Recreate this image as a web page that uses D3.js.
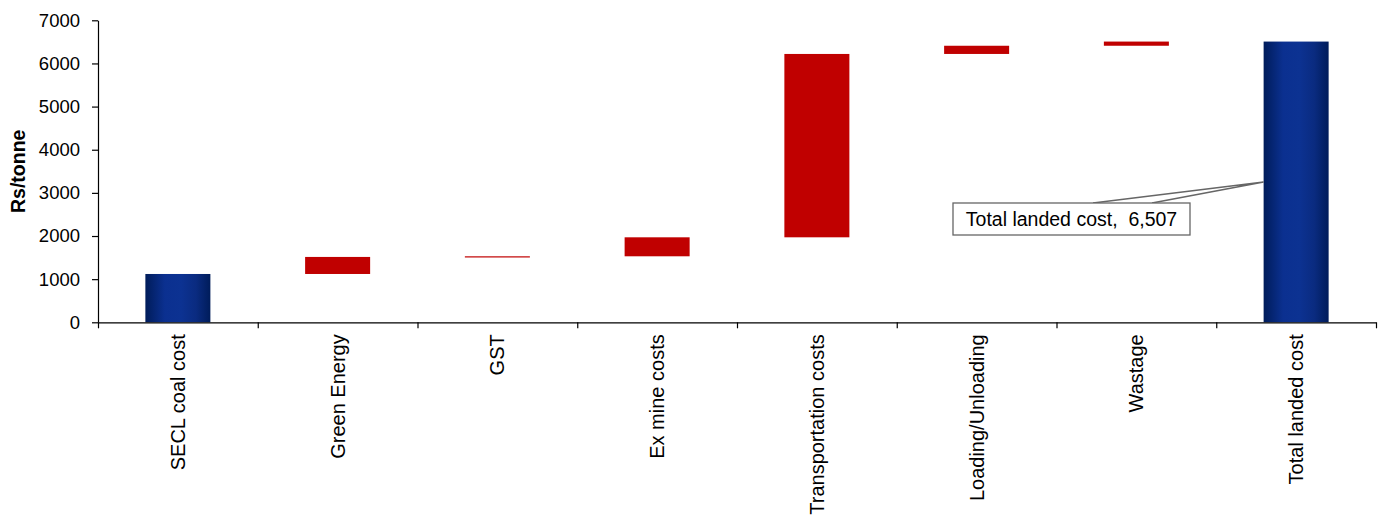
<!DOCTYPE html>
<html>
<head>
<meta charset="utf-8">
<script src="https://cdn.jsdelivr.net/npm/d3@7"></script>
<style>
body { margin: 0; background: #fff; }
svg { display: block; font-family: "Liberation Sans", Arial, sans-serif; }
</style>
</head>
<body>
<div id="chart"></div>
<script>
///data
const categories = ["SECL coal cost", "Green Energy", "GST", "Ex mine costs",
  "Transportation costs", "Loading/Unloading", "Wastage", "Total landed cost"];
const steps = [1120, 395, 15, 440, 4250, 190, 97];
const totalValue = 6507;
const yTicks = [0, 1000, 2000, 3000, 4000, 5000, 6000, 7000];
const calloutText = "Total landed cost,  6,507";

///vars
let w = 1384, h = 516;
const padL = 98, padR = 1376, padT = 20.3, padB = 322.3;

let svg = d3.select("#chart").append("svg")
  .attr("width", w).attr("height", h);

///gradient for the blue bars
const grad = svg.append("defs").append("linearGradient")
  .attr("id", "blue").attr("x1", "0%").attr("x2", "100%").attr("y1", "0%").attr("y2", "0%");
[["0%", "#001c5a"], ["30%", "#0b3090"], ["55%", "#0c3292"], ["78%", "#0a2b80"], ["100%", "#001c5a"]]
  .forEach(s => grad.append("stop").attr("offset", s[0]).attr("stop-color", s[1]));

///scales
const x = d3.scaleBand().domain(categories).range([padL, padR]).padding(0);
const y = d3.scaleLinear().domain([0, 7000]).range([padB, padT]);
const barW = x.bandwidth() * 0.407;

///waterfall rows
let run = 0;
const rows = categories.map((c, i) => {
  if (i === 0) { run = steps[0]; return { c, y0: 0, y1: run, total: true }; }
  if (i === categories.length - 1) return { c, y0: 0, y1: totalValue, total: true };
  const r = { c, y0: run, y1: run + steps[i], total: false };
  run += steps[i];
  return r;
});

svg.append("g").selectAll("rect")
  .data(rows).join("rect")
  .attr("x", d => x(d.c) + x.bandwidth() / 2 - barW / 2)
  .attr("width", barW)
  .attr("y", d => y(d.y1))
  .attr("height", d => Math.max(1.2, y(d.y0) - y(d.y1)))
  .attr("fill", d => d.total ? "url(#blue)" : "#c00000");

///y axis
const yAxis = svg.append("g")
  .attr("transform", "translate(" + padL + ",0)")
  .call(d3.axisLeft(y).tickValues(yTicks).tickSize(6).tickSizeOuter(0).tickPadding(12).tickFormat(d3.format("d")));
yAxis.attr("font-family", null).attr("font-size", null);
yAxis.selectAll("text").style("font-size", "18.5px").style("fill", "#000");
yAxis.selectAll("line, path").attr("stroke", "#000").attr("stroke-width", 1.2);

///x axis (tick marks between categories)
const xEdges = d3.scaleLinear().domain([0, categories.length]).range([padL, padR]);
const xAxis = svg.append("g")
  .attr("transform", "translate(0," + padB + ")")
  .call(d3.axisBottom(xEdges).tickValues(d3.range(categories.length + 1)).tickSize(6).tickSizeOuter(0).tickFormat(""));
xAxis.selectAll("line, path").attr("stroke", "#000").attr("stroke-width", 1.2);

///category labels
svg.append("g").selectAll("text")
  .data(categories).join("text")
  .attr("transform", d => "translate(" + (x(d) + x.bandwidth() / 2) + "," + (padB + 12) + ") rotate(-90)")
  .attr("text-anchor", "end")
  .attr("dy", "0.35em")
  .style("font-size", "20px")
  .text(d => d);

///axis title
svg.append("text")
  .attr("transform", "translate(18," + (padT + padB) / 2 + ") rotate(-90)")
  .attr("text-anchor", "middle")
  .attr("dy", "0.35em")
  .style("font-size", "19.5px")
  .style("font-weight", "bold")
  .text("Rs/tonne");

///callout
const tip = { x: x(categories[7]) + x.bandwidth() / 2 - barW / 2, y: 182 };
const box = { x: 953, y: 203, w: 237, h: 32 };
svg.append("path")
  .attr("d", "M1093," + box.y + "L" + tip.x + "," + tip.y + "L1152," + box.y)
  .attr("fill", "none").attr("stroke", "#666").attr("stroke-width", 1.6);
svg.append("rect")
  .attr("x", box.x).attr("y", box.y).attr("width", box.w).attr("height", box.h)
  .attr("fill", "#fff").attr("stroke", "#666").attr("stroke-width", 1.3);
svg.append("text")
  .attr("x", box.x + box.w / 2).attr("y", box.y + box.h / 2)
  .attr("text-anchor", "middle").attr("dy", "0.36em")
  .style("font-size", "19.5px")
  .style("white-space", "pre")
  .text(calloutText);
</script>
</body>
</html>
